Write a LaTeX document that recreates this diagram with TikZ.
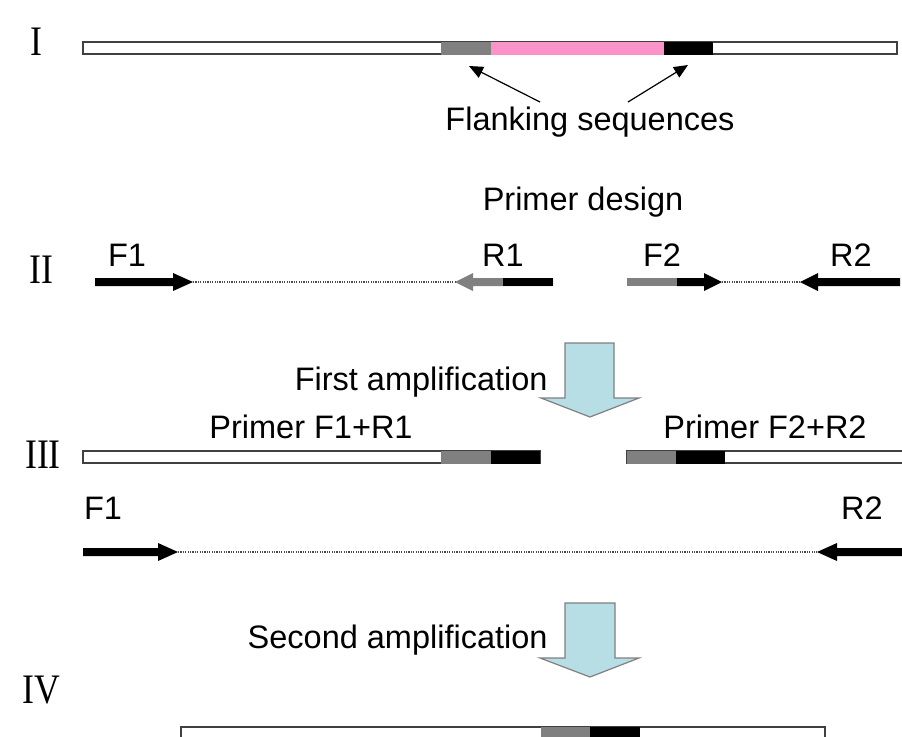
\documentclass[tikz,border=0pt]{standalone}
\usepackage{fontspec}
\setmainfont{Liberation Sans}
\newfontfamily\romanfont{Liberation Serif}
\usetikzlibrary{arrows.meta}
\definecolor{cyanish}{HTML}{B7DEE5}
\definecolor{pinkish}{HTML}{FA93C8}
\definecolor{midgray}{HTML}{808080}
\newcommand\condnum[1]{\scalebox{0.85}[1]{#1}}
\begin{document}
\begin{tikzpicture}[x=0.5pt,y=-0.5pt,
  lbl/.style={font=\fontsize{16.25}{19}\selectfont, inner sep=0pt, anchor=base},
  num/.style={font=\romanfont\fontsize{21}{24}\selectfont, inner sep=0pt},
  bar/.style={draw=black!75, line width=0.8pt, fill=white},
  dotline/.style={draw=black!70, line width=1pt, dash pattern=on 0.6pt off 0.6pt},
  blockarrow/.style={fill=cyanish, draw=black!50, line width=0.6pt, line join=miter},
  thinarrow/.style={draw=black, line width=0.6pt, -{Triangle[length=7pt,width=6pt]}}]
\useasboundingbox (0,0) rectangle (902,736);
\fill[white] (0,0) rectangle (902,736);

% ---------- Row I ----------
\node[num] (nI) at (36,42) {\condnum{I}};
\draw[bar] (83,42) rectangle (897,54);
\fill[midgray] (441,41.5) rectangle (491,54.5);
\fill[pinkish] (491,41.5) rectangle (664,54.5);
\fill[black] (664,41.5) rectangle (713,54.5);
\coordinate (flG) at (469,66);
\coordinate (flB) at (688,65);
\node[lbl] (flank) at (590,130) {Flanking sequences};
\draw[thinarrow] (540,102) -- (flG);
\draw[thinarrow] (628,102) -- (flB);

\node[lbl] (design) at (583,210) {Primer design};

% ---------- Row II ----------
\node[num] (nII) at (41,270) {\condnum{II}};
\node[lbl] (F1a) at (127,266) {F1};
\node[lbl] (R1a) at (503,266) {R1};
\node[lbl] (F2a) at (662,266) {F2};
\node[lbl] (R2a) at (851,266) {R2};
% F1
\fill[black] (95,278) -- (173,278) -- (173,273) -- (193,282) -- (173,291) -- (173,286) -- (95,286) -- cycle;
% R1
\fill[midgray] (553,278) -- (473,278) -- (473,273) -- (455,282) -- (473,291) -- (473,286) -- (553,286) -- cycle;
\fill[black] (503,278) rectangle (553,286);
% F2
\fill[midgray] (627,278) rectangle (677,286);
\fill[black] (677,278) -- (704,278) -- (704,273) -- (722,282) -- (704,291) -- (704,286) -- (677,286) -- cycle;
% R2
\fill[black] (900,278) -- (818,278) -- (818,273) -- (800,282) -- (818,291) -- (818,286) -- (900,286) -- cycle;
\draw[dotline] (193,282) -- (455,282);
\draw[dotline] (722,282) -- (800,282);

% ---------- First amplification ----------
\node[lbl, anchor=base east] (amp1) at (548,390) {First amplification};
\draw[blockarrow] (565,343) -- (614,343) -- (614,398) -- (639,398) -- (590,417) -- (541,398) -- (565,398) -- cycle;

% ---------- Row III ----------
\node[num] (nIII) at (43,455) {\condnum{III}};
\node[lbl] (pF1R1) at (311,438) {Primer F1+R1};
\node[lbl] (pF2R2) at (765,438) {Primer F2+R2};
\draw[bar] (83,451) rectangle (540,463);
\fill[midgray] (441,450.5) rectangle (491,463.5);
\fill[black] (491,450.5) rectangle (540,463.5);
\draw[bar] (627,451) rectangle (906,463);
\fill[midgray] (627,450.5) rectangle (676,463.5);
\fill[black] (676,450.5) rectangle (725,463.5);

\node[lbl] (F1b) at (103,519) {F1};
\node[lbl] (R2b) at (862,519) {R2};
\fill[black] (83,548) -- (158,548) -- (158,543) -- (178,552) -- (158,561) -- (158,556) -- (83,556) -- cycle;
\fill[black] (904,548) -- (837,548) -- (837,543) -- (817,552) -- (837,561) -- (837,556) -- (904,556) -- cycle;
\draw[dotline] (178,552) -- (817,552);

% ---------- Second amplification ----------
\node[lbl, anchor=base east] (amp2) at (548,648) {Second amplification};
\draw[blockarrow] (565,603) -- (615,603) -- (615,658) -- (639,658) -- (590,677) -- (540,658) -- (565,658) -- cycle;

% ---------- Row IV ----------
\node[num] (nIV) at (41,690) {\condnum{IV}};
\draw[bar] (181,727) rectangle (825,745);
\fill[midgray] (541,726.5) rectangle (590,745);
\fill[black] (590,726.5) rectangle (640,745);
\end{tikzpicture}
\end{document}
